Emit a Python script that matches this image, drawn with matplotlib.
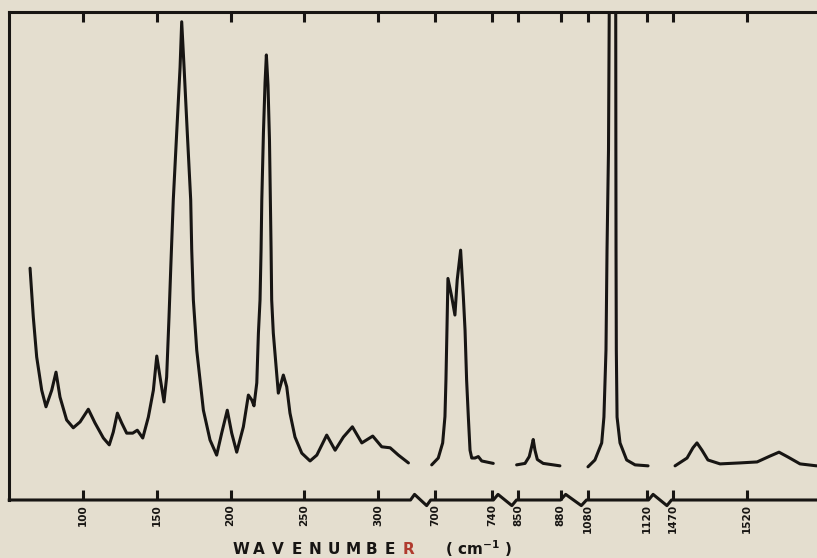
import numpy as np
import matplotlib
matplotlib.use('Agg')
from matplotlib import pyplot as plt

# broken wavenumber axis: wavenumber -> horizontal position (figure pixels)
knot_wn = [50, 322, 697, 741, 849, 879, 1079, 1121, 1469, 1567]
knot_px = [9.25, 410.5, 430.7, 493.4, 516.5, 560.5, 586.5, 648.5, 671.5, 816.6]
gaps = [(322, 697), (741, 849), (879, 1079), (1121, 1469)]

tick_wn = [100, 150, 200, 250, 300, 700, 740, 850, 880, 1080, 1120, 1470, 1520]
tick_labels = [str(t) for t in tick_wn]

# spectrum (wavenumber in cm-1, intensity in % of frame height)
seg1_wn = [64.1, 66.3, 68.6, 72.0, 74.9, 78.8, 81.7, 84.4, 88.9, 93.4, 98.0, 103.6,
           108.1, 113.8, 117.8, 120.5, 123.3, 126.2, 129.6, 133.7, 136.8, 140.5, 144.3,
           147.7, 150.0, 152.2, 154.9, 156.7, 158.3, 159.5, 161.2, 163.5, 165.8, 166.9,
           168.5, 170.7, 173.0, 173.7, 174.8, 177.1, 181.6, 186.1, 190.6, 194.0, 197.8,
           200.8, 204.2, 208.7, 212.1, 214.4, 215.9, 217.8, 218.9, 220.0, 220.7, 221.2,
           222.3, 223.4, 224.3, 225.4, 226.4, 227.5, 227.9, 229.0, 230.9, 232.4, 235.8,
           238.1, 240.3, 243.7, 248.3, 253.9, 258.5, 265.2, 270.9, 276.5, 282.6, 289.0,
           296.4, 302.5, 308.2, 313.8, 320.6]
seg1_int = [47.5, 37.5, 29.3, 22.5, 19.1, 22.5, 26.2, 21.1, 16.4, 14.8, 16.0, 18.6,
            15.8, 12.7, 11.3, 13.9, 17.8, 15.8, 13.7, 13.7, 14.3, 12.7, 17.0,
            22.5, 29.5, 25.2, 20.1, 25.2, 37.5, 47.7, 61.5, 75.2, 88.7, 98.0,
            88.7, 75.2, 61.5, 51.2, 41.0, 30.7, 18.4, 12.3, 9.2, 13.7, 18.4,
            13.7, 9.8, 15.0, 21.5, 20.5, 19.3, 24.0, 34.2, 41.0, 51.2, 61.5,
            75.2, 85.5, 91.2, 85.0, 73.8, 51.2, 41.0, 34.2, 27.3, 21.9, 25.6,
            23.2, 17.8, 12.9, 9.6, 8.0, 9.2, 13.3, 10.2, 12.9, 15.0, 11.7,
            13.1, 10.9, 10.7, 9.2, 7.6]

seg2_wn = [697.7, 702.3, 705.4, 707.0, 707.7, 708.4, 709.1, 711.7, 714.0, 715.6, 718.0,
           719.9, 721.1, 722.2, 723.4, 724.6, 725.8, 728.1, 730.4, 732.8, 740.9]
seg2_int = [7.2, 8.6, 11.7, 17.1, 24.6, 34.8, 45.4, 41.7, 37.9, 45.1, 51.2,
            41.7, 34.8, 24.6, 17.1, 10.2, 8.6, 8.6, 8.9, 8.0, 7.5]

seg3_wn = [849.1, 854.8, 857.7, 859.3, 860.4, 861.6, 863.2, 867.2, 878.6]
seg3_int = [7.2, 7.5, 8.9, 10.9, 12.4, 10.2, 8.3, 7.5, 7.0]

seg4_wn = [1080.0, 1084.7, 1089.3, 1090.8, 1092.2, 1092.9, 1093.9, 1094.4, 1096.6,
           1098.8, 1098.9, 1099.0, 1099.2, 1099.7, 1101.7, 1106.2, 1111.9, 1120.7]
seg4_int = [6.8, 8.2, 11.7, 17.0, 30.7, 51.2, 71.7, 100.0, 123.0,
            100.0, 71.7, 51.2, 30.7, 17.0, 11.7, 8.2, 7.2, 7.0]

seg5_wn = [1471.4, 1479.5, 1483.5, 1486.2, 1489.6, 1493.6, 1501.8, 1515.3, 1526.8,
           1535.5, 1541.6, 1547.7, 1555.8, 1567.3]
seg5_int = [7.0, 8.6, 10.7, 11.7, 10.2, 8.2, 7.4, 7.6, 7.8,
            9.0, 9.8, 8.8, 7.4, 7.0]

paper = '#e4decf'
ink = '#171513'


def fwd(x):
    return np.interp(x, knot_wn, knot_px)


def inv(p):
    return np.interp(p, knot_px, knot_wn)


fig = plt.figure(figsize=(8.17, 5.58), dpi=100, facecolor=paper)
ax = fig.add_axes([9.25 / 817, 58 / 558, (816.6 - 9.25) / 817, 488 / 558])
ax.set_facecolor(paper)
ax.set_xscale('function', functions=(fwd, inv))
ax.set_xlim(knot_wn[0], knot_wn[-1])
ax.set_ylim(0, 100)

for wn, y in [(seg1_wn, seg1_int), (seg2_wn, seg2_int), (seg3_wn, seg3_int),
              (seg4_wn, seg4_int), (seg5_wn, seg5_int)]:
    ax.plot(wn, y, color=ink, lw=2.2, solid_joinstyle='round', solid_capstyle='round')

# bottom axis line with zigzag breaks
bx, by = [knot_wn[0]], [0]
for a, b in gaps:
    bx += [a, a + 0.2 * (b - a), a + 0.8 * (b - a), b]
    by += [0, 0.0115, -0.0115, 0]
bx.append(knot_wn[-1])
by.append(0)
ax.plot(bx, by, color=ink, lw=2.2, transform=ax.get_xaxis_transform(),
        clip_on=False, solid_joinstyle='round', zorder=5)

ax.spines['bottom'].set_visible(False)
ax.spines['right'].set_visible(False)
for s in ['left', 'top']:
    ax.spines[s].set_linewidth(2.2)
    ax.spines[s].set_color(ink)

ax.set_xticks(tick_wn)
ax.set_xticks([], minor=True)
ax.set_xticklabels(tick_labels, rotation=90, fontsize=7.5, fontweight='bold',
                   color=ink, va='top')
ax.tick_params(axis='x', direction='in', length=7, width=2.2, color=ink,
               top=True, pad=3)
ax.set_yticks([])

# spaced-out axis title
for i, ch in enumerate('WAVENUMBER'):
    fig.text((240.5 + i * 18.7) / 817, 1 - 549 / 558, ch, ha='center', va='center',
             fontsize=11, fontweight='bold', color='#b03a2e' if ch == 'R' and i == 9 else ink)
fig.text(445 / 817, 1 - 549 / 558, r'( cm$^{\mathbf{-1}}$ )', ha='left', va='center',
         fontsize=11, fontweight='bold', color=ink)

fig.savefig('out.png', dpi=100, facecolor=paper)
